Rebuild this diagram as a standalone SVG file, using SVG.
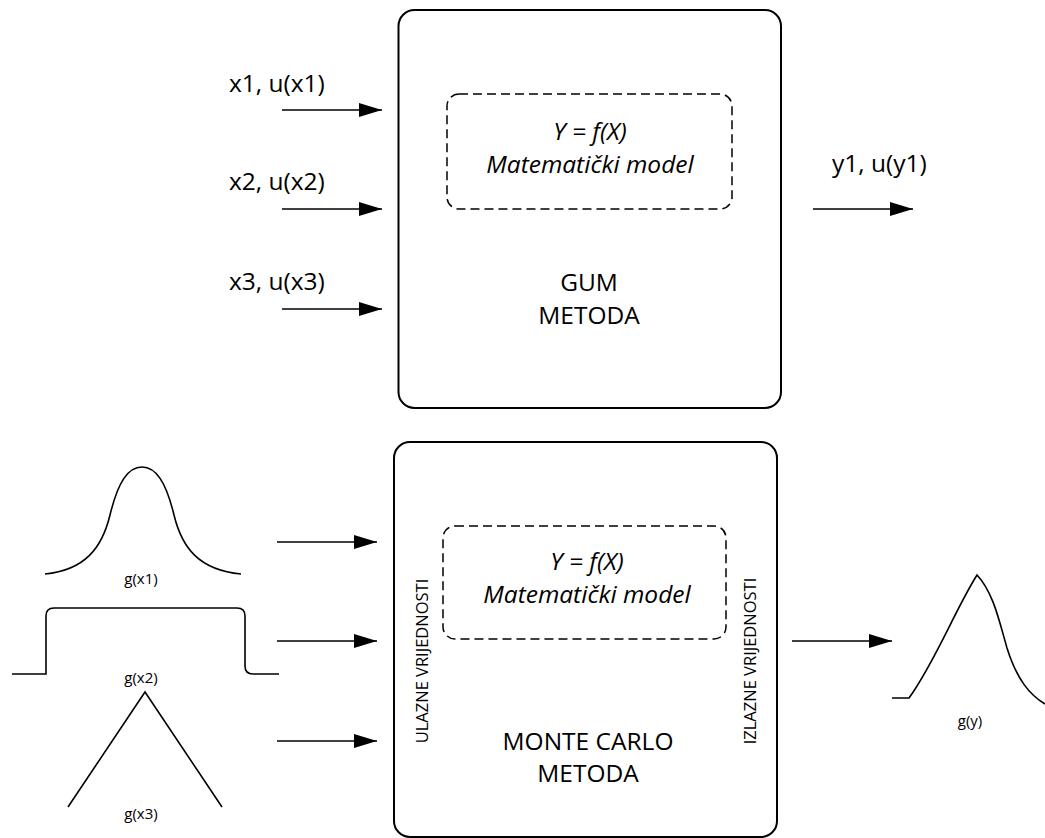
<svg xmlns="http://www.w3.org/2000/svg" width="1045" height="838" viewBox="0 0 1045 838">
<style>
text{font-family:"Open Sans","Liberation Sans",sans-serif;fill:#000}
.lbl{font-size:24.5px}
.it{font-size:24.5px;font-style:italic;text-anchor:middle}
.big{font-size:24.5px;text-anchor:middle}
.sm{font-size:15px;text-anchor:middle}
.vt{font-size:16.5px;text-anchor:middle}
.box{fill:#fff;stroke:#000;stroke-width:2}
.dash{fill:none;stroke:#000;stroke-width:1.5;stroke-dasharray:9 5}
.arr{stroke:#000;stroke-width:1.6;marker-end:url(#ah)}
.crv{fill:none;stroke:#000;stroke-width:1.6}
</style>
<defs>
<marker id="ah" markerUnits="userSpaceOnUse" markerWidth="24" markerHeight="16" refX="23" refY="7" orient="auto">
<path d="M0,0 L23,7 L0,14 Z" fill="#000"/>
</marker>
</defs>
<g id="gum">
<rect class="box" x="398.5" y="10" width="382.5" height="398" rx="16"/>
<rect class="dash" x="447" y="94" width="285" height="115" rx="12"/>
<text class="it" x="590" y="140">Y = f(X)</text>
<text class="it" x="590" y="173">Matematički model</text>
<text class="big" x="589" y="291">GUM</text>
<text class="big" x="589" y="324">METODA</text>
</g>
<g id="mc">
<rect class="box" x="394" y="442" width="383" height="395" rx="16"/>
<rect class="dash" x="443" y="526" width="283" height="113" rx="12"/>
<text class="it" x="587" y="570">Y = f(X)</text>
<text class="it" x="587" y="603">Matematički model</text>
<text class="big" x="588" y="750">MONTE CARLO</text>
<text class="big" x="588" y="782">METODA</text>
<text class="vt" transform="translate(428,661) rotate(-90)">ULAZNE VRIJEDNOSTI</text>
<text class="vt" transform="translate(756,661) rotate(-90)">IZLAZNE VRIJEDNOSTI</text>
</g>
<g id="inputs-gum">
<text class="lbl" x="229" y="92">x1, u(x1)</text>
<text class="lbl" x="229" y="190">x2, u(x2)</text>
<text class="lbl" x="229" y="290">x3, u(x3)</text>
</g>
<g id="output-gum">
<text class="lbl" x="832" y="172">y1, u(y1)</text>
</g>
<g id="g-x1">
<path class="crv" d="M45,574 C85,570 102,548 110,515 C118,482 128,467 142,467 C156,467 166,482 174,515 C182,548 199,570 241,574"/>
<text class="sm" x="141" y="584">g(x1)</text>
</g>
<g id="g-x2">
<path class="crv" d="M12,674 H46 V616 Q46,608 54,608 H237 Q245,608 245,616 V666 Q245,674 253,674 H279"/>
<text class="sm" x="141" y="683">g(x2)</text>
</g>
<g id="g-x3">
<path class="crv" d="M68,807 L145,692 L222,807"/>
<text class="sm" x="141" y="819">g(x3)</text>
</g>
<g id="g-y">
<path class="crv" d="M892,698 H909 C935,662 955,610 977,575 C993,592 999,620 1007,648 C1017,680 1030,695 1045,704"/>
<text class="sm" x="970" y="726">g(y)</text>
</g>
<g id="connectors">
<line class="arr" x1="282" y1="110" x2="382" y2="110"/>
<line class="arr" x1="282" y1="209" x2="382" y2="209"/>
<line class="arr" x1="282" y1="309" x2="382" y2="309"/>
<line class="arr" x1="813" y1="209" x2="913" y2="209"/>
<line class="arr" x1="277" y1="542" x2="377" y2="542"/>
<line class="arr" x1="277" y1="641" x2="377" y2="641"/>
<line class="arr" x1="277" y1="741" x2="377" y2="741"/>
<line class="arr" x1="792" y1="641" x2="892" y2="641"/>
</g>
</svg>
